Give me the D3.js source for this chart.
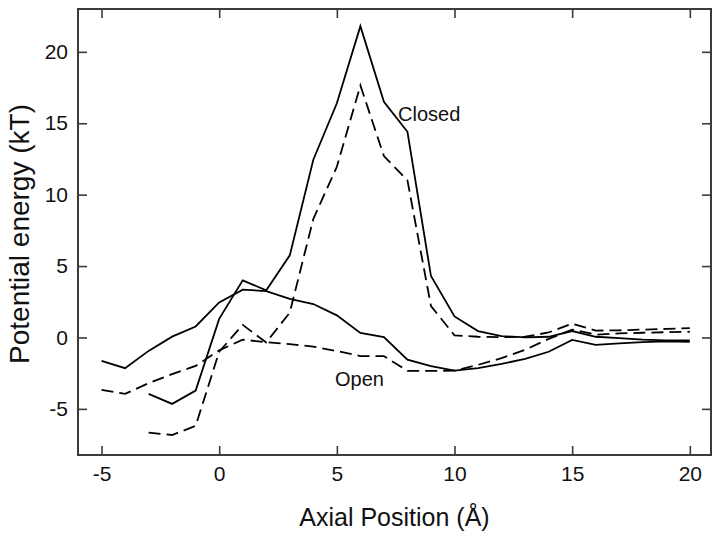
<!DOCTYPE html>
<html>
<head>
<meta charset="utf-8">
<script src="https://cdn.jsdelivr.net/npm/d3@7"></script>
<style>
  body { margin: 0; background: #fff; }
  text { font-family: "Liberation Sans", Arial, sans-serif; fill: #111; }
</style>
</head>
<body>
<div id="chart"></div>
<script>
// axial positions (Å)
let open_x = [-5, -4, -3, -2, -1, 0, 1, 2, 3, 4, 5, 6, 7, 8, 9, 10, 11, 12, 13, 14, 15, 16, 17, 18, 19, 20]
let closed_x = [-3, -2, -1, 0, 1, 2, 3, 4, 5, 6, 7, 8, 9, 10, 11, 12, 13, 14, 15, 16, 17, 18, 19, 20]

// potential energy (kT)
let open_solid = [-1.64, -2.15, -0.94, 0.06, 0.77, 2.45, 3.35, 3.25, 2.7, 2.34, 1.55, 0.32, 0.03,
                  -1.55, -2.0, -2.32, -2.15, -1.85, -1.5, -1.0, -0.17, -0.52, -0.42, -0.32, -0.28, -0.3]
let open_dashed = [-3.67, -3.95, -3.2, -2.57, -1.99, -0.9, -0.15, -0.33, -0.47, -0.64, -0.95, -1.3, -1.3,
                   -2.34, -2.34, -2.32, -1.92, -1.45, -0.87, -0.1, 0.55, 0.2, 0.28, 0.33, 0.37, 0.4]
let closed_solid = [-3.95, -4.65, -3.72, 1.3, 4.0, 3.3, 5.75, 12.45, 16.4, 21.8, 16.5, 14.4, 4.3,
                    1.47, 0.45, 0.1, 0.0, 0.05, 0.45, 0.05, -0.05, -0.15, -0.2, -0.2]
let closed_dashed = [-6.66, -6.83, -6.19, -1.0, 0.88, -0.35, 1.75, 8.3, 11.95, 17.65, 12.7, 11.0, 2.2,
                     0.15, 0.05, 0.02, 0.05, 0.35, 0.97, 0.48, 0.5, 0.55, 0.6, 0.65]

let x_ticks = [-5, 0, 5, 10, 15, 20]
let y_ticks = [-5, 0, 5, 10, 15, 20]

// curve labels: [text, x, y]
let labels = [["Closed", 7.6, 15.14], ["Open", 4.92, -3.39]]

let width = 720,
    height = 535,
    margin = {top: 9, right: 9, bottom: 80, left: 78}

let x = d3.scaleLinear()
    .domain([-6, 20.9])
    .range([margin.left, width - margin.right])
let y = d3.scaleLinear()
    .domain([-8.23, 23])
    .range([height - margin.bottom, margin.top])

let svg = d3.select("#chart").append("svg")
    .attr("width", width)
    .attr("height", height)

let frame_color = "#3a3a3a"

// plain hyphen for negatives, like the original
function plain(d) { return String(d) }

function style_axis(g) {
  g.select(".domain").remove()
  g.selectAll(".tick line").attr("stroke", frame_color).attr("stroke-width", 1.6)
  g.selectAll(".tick text").style("font-size", "21px").style("fill", "#111")
}

svg.append("g")
    .attr("transform", "translate(0," + y.range()[0] + ")")
    .call(d3.axisBottom(x).tickValues(x_ticks).tickFormat(plain).tickSize(-9).tickPadding(11))
    .call(style_axis)
svg.append("g")
    .attr("transform", "translate(0," + y.range()[1] + ")")
    .call(d3.axisTop(x).tickValues(x_ticks).tickSize(-9).tickFormat(""))
    .call(style_axis)
svg.append("g")
    .attr("transform", "translate(" + x.range()[0] + ",0)")
    .call(d3.axisLeft(y).tickValues(y_ticks).tickFormat(plain).tickSize(-9).tickPadding(10))
    .call(style_axis)
svg.append("g")
    .attr("transform", "translate(" + x.range()[1] + ",0)")
    .call(d3.axisRight(y).tickValues(y_ticks).tickSize(-9).tickFormat(""))
    .call(style_axis)

svg.append("rect")
    .attr("x", x.range()[0])
    .attr("y", y.range()[1])
    .attr("width", x.range()[1] - x.range()[0])
    .attr("height", y.range()[0] - y.range()[1])
    .attr("fill", "none")
    .attr("stroke", frame_color)
    .attr("stroke-width", 2)

let line = d3.line()
    .x(function(d) { return x(d[0]) })
    .y(function(d) { return y(d[1]) })

let series = [
  {xs: open_x, ys: open_solid, dash: null},
  {xs: open_x, ys: open_dashed, dash: "12,6"},
  {xs: closed_x, ys: closed_solid, dash: null},
  {xs: closed_x, ys: closed_dashed, dash: "12,6"}
]

svg.selectAll("path.curve")
    .data(series).enter()
      .append("path")
        .classed("curve", true)
        .attr("d", function(s) { return line(d3.zip(s.xs, s.ys)) })
        .attr("fill", "none")
        .attr("stroke", "#000")
        .attr("stroke-width", 1.8)
        .attr("stroke-linejoin", "miter")
        .attr("stroke-dasharray", function(s) { return s.dash })

svg.selectAll("text.curve-label")
    .data(labels).enter()
      .append("text")
        .classed("curve-label", true)
        .attr("x", function(d) { return x(d[1]) })
        .attr("y", function(d) { return y(d[2]) })
        .style("font-size", "20px")
        .text(function(d) { return d[0] })

svg.append("text")
    .attr("x", (x.range()[0] + x.range()[1]) / 2)
    .attr("y", 526)
    .attr("text-anchor", "middle")
    .style("font-size", "25px")
    .text("Axial Position (Å)")

svg.append("text")
    .attr("transform", "translate(29," + 234 + ") rotate(-90)")
    .attr("text-anchor", "middle")
    .style("font-size", "28px")
    .text("Potential energy (kT)")
</script>
</body>
</html>
